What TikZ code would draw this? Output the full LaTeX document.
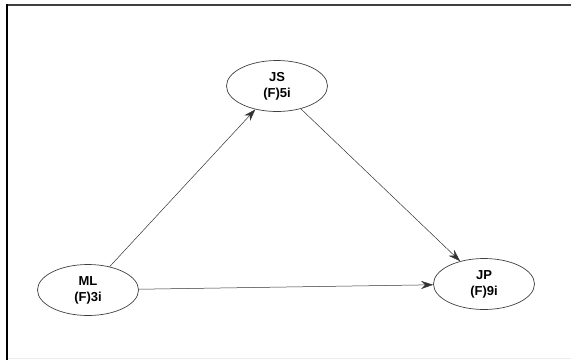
\documentclass[tikz,border=0pt]{standalone}
\usepackage{fontspec}
\setmainfont{Liberation Sans}
\usetikzlibrary{arrows.meta,shapes.geometric}
\begin{document}
\begin{tikzpicture}[x=1pt,y=-1pt,
  person/.style={ellipse, draw=black!75, line width=0.7pt,
    minimum width=101pt, minimum height=51pt, inner sep=0pt,
    align=center, font=\fontsize{13}{16}\selectfont\bfseries},
  link/.style={draw=black!80, line width=0.5pt,
    -{Stealth[length=12pt,width=8pt]}}]
  \useasboundingbox (0,0) rectangle (571,360);
  % page frame
  \draw[black!75, line width=2pt] (6,5) -- (571,5);
  \draw[black, line width=2pt] (7,4) -- (7,360);
  \draw[black!8, line width=1.2pt] (8,358.5) -- (571,358.5);
  % people
  \node[person] (JS) at (277,86) {JS\\(F)5i};
  \node[person] (ML) at (88,290) {ML\\(F)3i};
  \node[person] (JP) at (484,284) {JP\\(F)9i};
  % relations
  \draw[link] (ML) -- (JS);
  \draw[link] (JS) -- (JP);
  \draw[link] (ML) -- (JP);
\end{tikzpicture}
\end{document}
